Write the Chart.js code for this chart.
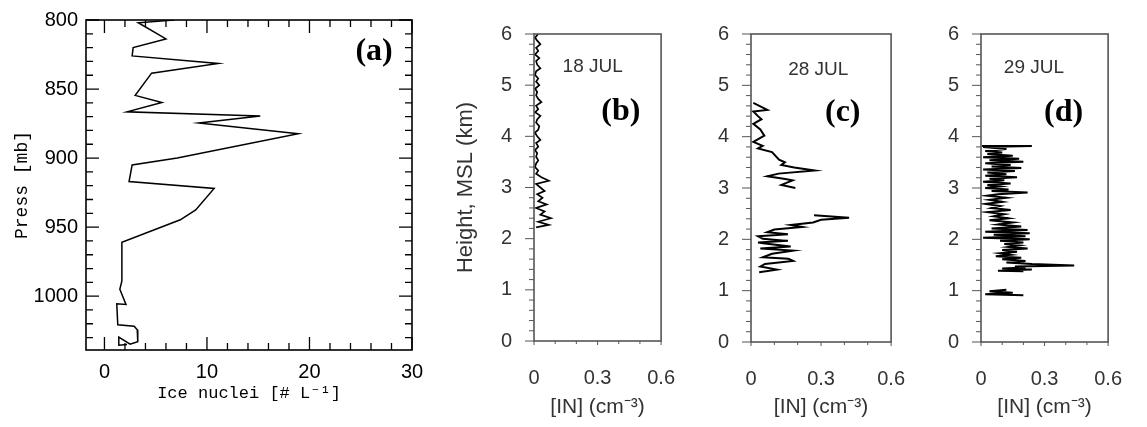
<!DOCTYPE html>
<html>
<head>
<meta charset="utf-8">
<script src="https://cdn.jsdelivr.net/npm/chart.js@4/dist/chart.umd.min.js"></script>
<style>
  html, body { margin: 0; padding: 0; background: #fff; }
  #wrap { position: relative; width: 1147px; height: 427px; overflow: hidden; }
  canvas { position: absolute; top: 0; }
</style>
</head>
<body>
<div id="wrap">
  <canvas id="panel-a" style="left:0px" width="440" height="427"></canvas>
  <canvas id="panel-b" style="left:440px" width="260" height="427"></canvas>
  <canvas id="panel-c" style="left:700px" width="230" height="427"></canvas>
  <canvas id="panel-d" style="left:930px" width="217" height="427"></canvas>
</div>
<script>
// (a) ice nuclei [# L-1] vs pressure [mb]
const pressA = [800, 802, 813.7, 820, 826, 831.5, 838.5, 854.6, 859.7, 866.5,
  869.5, 874.6, 882.3, 900, 905, 917, 922, 937.6, 944.7, 961,
  989, 995, 1006, 1005.5, 1020.8, 1021.8, 1024.4, 1033, 1034.8, 1029.6,
  1035.5, 1035];
const nucleiA = [6.8, 3.3, 6.0, 2.8, 2.7, 11.1, 4.6, 3.0, 5.6, 2.2,
  15.2, 9.2, 18.9, 7.1, 2.7, 2.4, 10.7, 8.9, 7.4, 1.7,
  1.7, 1.5, 2.1, 1.2, 1.3, 2.9, 3.2, 3.25, 2.5, 1.4,
  1.4, 2.2];

// (b) 18 JUL
const heightB = [6.00, 5.93, 5.87, 5.80, 5.73, 5.67, 5.60, 5.53, 5.47, 5.40,
  5.33, 5.27, 5.20, 5.13, 5.07, 5.00, 4.93, 4.87, 4.80, 4.73,
  4.67, 4.60, 4.53, 4.47, 4.40, 4.33, 4.27, 4.20, 4.13, 4.07,
  4.00, 3.93, 3.87, 3.80, 3.73, 3.67, 3.60, 3.53, 3.47, 3.40,
  3.33, 3.27, 3.20, 3.13, 3.07, 3.00, 2.93, 2.87, 2.80, 2.73,
  2.67, 2.60, 2.53, 2.47, 2.40, 2.33, 2.27, 2.22];
const inB = [0.02, 0.005, 0.015, 0.03, 0.01, 0.02, 0.005, 0.025, 0.01, 0.015,
  0.03, 0.01, 0.005, 0.02, 0.01, 0.025, 0.005, 0.015, 0.01, 0.02,
  0.035, 0.01, 0.02, 0.005, 0.03, 0.015, 0.01, 0.025, 0.02, 0.005,
  0.015, 0.03, 0.01, 0.02, 0.005, 0.015, 0.01, 0.02, 0.01, 0.005,
  0.02, 0.01, 0.035, 0.07, 0.01, 0.03, 0.05, 0.015, 0.04, 0.02,
  0.06, 0.01, 0.05, 0.03, 0.08, 0.02, 0.07, 0.01];

// (c) 28 JUL (null = gap in the record)
const heightC = [4.66, 4.52, 4.49, 4.40, 4.34, 4.25, 4.14, 4.02, 3.90, 3.82,
  3.77, 3.70, 3.63, 3.55, 3.50, 3.45, 3.40, 3.34, 3.28, 3.23,
  3.18, 3.15, 3.06, 3.00, null, 2.47, 2.42, 2.38, 2.33, 2.28,
  2.24, 2.19, 2.14, 2.10, 2.06, 2.01, 1.97, 1.94, 1.92, 1.86,
  1.82, 1.78, 1.72, 1.65, 1.62, 1.58, 1.52, 1.47, 1.41, 1.36];
const inC = [0.01, 0.07, 0.01, 0.03, 0.045, 0.01, 0.04, 0.057, 0.01, 0.05,
  0.03, 0.09, 0.104, 0.12, 0.145, 0.13, 0.185, 0.273, 0.118, 0.07,
  0.14, 0.178, 0.13, 0.19, null, 0.27, 0.42, 0.30, 0.266, 0.17,
  0.22, 0.10, 0.07, 0.158, 0.03, 0.05, 0.158, 0.03, 0.06, 0.17,
  0.04, 0.18, 0.09, 0.05, 0.16, 0.18, 0.06, 0.04, 0.11, 0.035];

// (d) 29 JUL
const heightD = [3.82, 3.82, 3.80, 3.76, 3.72, 3.69, 3.66, 3.63, 3.60, 3.57, 3.54,
  3.51, 3.48, 3.45, 3.42, 3.39, 3.36, 3.33, 3.30, 3.27, 3.24,
  3.21, 3.18, 3.15, 3.12, 3.09, 3.06, 3.03, 3.00, 2.97, 2.94,
  2.91, 2.88, 2.85, 2.81, 2.77, 2.73, 2.69, 2.65, 2.61, 2.57,
  2.53, 2.49, 2.45, 2.41, 2.37, 2.33, 2.29, 2.25, 2.21, 2.18,
  2.15, 2.12, 2.09, 2.06, 2.03, 2.00, 1.97, 1.94, 1.91, 1.88,
  1.85, 1.82, 1.79, 1.76, 1.73, 1.70, 1.67, 1.64, 1.61, 1.58,
  1.55, 1.52, 1.49, 1.47, 1.45, 1.43, 1.41, 1.39, 1.38, null,
  1.02, 0.99, 0.96, 0.93, 0.91];
const inD = [0.005, 0.24, 0.01, 0.12, 0.02, 0.10, 0.03, 0.15, 0.01, 0.18, 0.04,
  0.20, 0.02, 0.14, 0.05, 0.19, 0.01, 0.16, 0.03, 0.12, 0.02,
  0.17, 0.04, 0.11, 0.01, 0.14, 0.03, 0.09, 0.02, 0.13, 0.05,
  0.22, 0.08, 0.03, 0.12, 0.04, 0.10, 0.02, 0.09, 0.05, 0.14,
  0.03, 0.11, 0.06, 0.13, 0.04, 0.15, 0.08, 0.19, 0.05, 0.22,
  0.02, 0.23, 0.06, 0.21, 0.01, 0.23, 0.09, 0.20, 0.11, 0.18,
  0.13, 0.22, 0.10, 0.17, 0.09, 0.14, 0.07, 0.19, 0.10, 0.21,
  0.12, 0.24, 0.44, 0.16, 0.21, 0.10, 0.24, 0.08, 0.20, null,
  0.12, 0.04, 0.15, 0.02, 0.20];

const INX_TICKS = [0, 0.3, 0.6];
const SANS = "'Liberation Sans', Arial, sans-serif";
const GREY = "#333";

// frame + hand-drawn tick marks (inward or outward), positions from the scales
const frameTicksPlugin = {
  id: "frameTicks",
  afterDraw(chart, _args, opts) {
    const { ctx, chartArea: area, scales } = chart;
    ctx.save();
    ctx.strokeStyle = opts.color;
    ctx.lineWidth = opts.width;
    ctx.strokeRect(area.left, area.top, area.right - area.left, area.bottom - area.top);
    ctx.lineWidth = opts.tickWidth;

    for (const axisId of ["x", "y"]) {
      const cfg = opts[axisId];
      const scale = scales[axisId];
      const lo = Math.min(scale.min, scale.max);
      const hi = Math.max(scale.min, scale.max);
      const first = Math.ceil(lo / cfg.step - 1e-6);
      const last = Math.floor(hi / cfg.step + 1e-6);
      for (let k = first; k <= last; k += 1) {
        const value = k * cfg.step;
        const ratio = value / cfg.majorStep;
        const isMajor = Math.abs(ratio - Math.round(ratio)) < 1e-6;
        const len = isMajor ? cfg.major : cfg.minor;
        const p = scale.getPixelForValue(value);
        ctx.beginPath();
        for (const side of cfg.sides) {
          const sign = cfg.dir === "in" ? 1 : -1;
          if (side === "left") { ctx.moveTo(area.left, p); ctx.lineTo(area.left + sign * len, p); }
          if (side === "right") { ctx.moveTo(area.right, p); ctx.lineTo(area.right - sign * len, p); }
          if (side === "bottom") { ctx.moveTo(p, area.bottom); ctx.lineTo(p, area.bottom - sign * len); }
          if (side === "top") { ctx.moveTo(p, area.top); ctx.lineTo(p, area.top + sign * len); }
        }
        ctx.stroke();
      }
    }
    ctx.restore();
  }
};

// text labels placed in data coordinates
const panelLabelsPlugin = {
  id: "panelLabels",
  afterDraw(chart, _args, opts) {
    const { ctx, scales } = chart;
    ctx.save();
    ctx.textAlign = "center";
    ctx.textBaseline = "middle";
    for (const item of opts.items) {
      ctx.font = item.font;
      ctx.fillStyle = item.color;
      ctx.fillText(item.text, scales.x.getPixelForValue(item.x), scales.y.getPixelForValue(item.y));
    }
    ctx.restore();
  }
};

function toPoints(xs, ys) {
  return xs.map((x, i) => ({ x, y: ys[i] }));
}

function buildChart(canvasId, setup) {
  return new Chart(document.getElementById(canvasId), {
    type: "scatter",
    plugins: [frameTicksPlugin, panelLabelsPlugin],
    data: {
      datasets: [{
        data: setup.points,
        showLine: true,
        spanGaps: false,
        borderColor: "#000",
        borderWidth: setup.lineWidth,
        pointRadius: 0,
        tension: 0
      }]
    },
    options: {
      responsive: false,
      animation: false,
      devicePixelRatio: 1,
      events: [],
      layout: { padding: setup.padding },
      plugins: {
        legend: { display: false },
        tooltip: { enabled: false },
        frameTicks: setup.frame,
        panelLabels: { items: setup.labels }
      },
      scales: {
        x: setup.x,
        y: setup.y
      }
    }
  });
}

// ---- panel (a)
buildChart("panel-a", {
  points: toPoints(nucleiA, pressA),
  lineWidth: 1.5,
  padding: { top: 13, right: 28, left: 0, bottom: 0 },
  frame: {
    color: "#000", width: 1.6, tickWidth: 1.3,
    x: { step: 2, majorStep: 10, major: 13, minor: 7, sides: ["bottom", "top"], dir: "in" },
    y: { step: 10, majorStep: 50, major: 13, minor: 7, sides: ["left", "right"], dir: "in" }
  },
  labels: [
    { text: "(a)", x: 26.3, y: 823, font: "bold 32px 'Liberation Serif', serif", color: "#000" }
  ],
  x: {
    type: "linear", min: -1.8, max: 30,
    afterFit(scale) { scale.height = 77; },
    grid: { display: false, drawTicks: false },
    border: { display: false },
    ticks: { stepSize: 10, includeBounds: false, padding: 10, color: "#000",
      font: { family: SANS, size: 20 }, callback: (value) => String(value) },
    title: { display: true, text: "Ice nuclei [# L⁻¹]", color: "#000",
      font: { family: "'Liberation Mono', monospace", size: 17 }, padding: { top: 0, bottom: 23 } }
  },
  y: {
    type: "linear", min: 800, max: 1039, reverse: true,
    afterFit(scale) { scale.width = 86; },
    grid: { display: false, drawTicks: false },
    border: { display: false },
    ticks: { stepSize: 50, includeBounds: false, padding: 8, color: "#000",
      font: { family: SANS, size: 20 }, callback: (value) => String(value) },
    title: { display: true, text: "Press [mb]", color: "#000",
      font: { family: "'Liberation Mono', monospace", size: 18 }, padding: { top: 11, bottom: 0 } }
  }
});

// ---- panels (b)-(d)
function inAxisX(xAxisHeight) {
  return {
    type: "linear", min: 0, max: 0.6,
    afterFit(scale) { scale.height = xAxisHeight; },
    afterBuildTicks(scale) { scale.ticks = INX_TICKS.map((value) => ({ value })); },
    grid: { display: false, drawTicks: false },
    border: { display: false },
    ticks: { padding: 25, color: GREY, font: { family: SANS, size: 20 },
      callback: (value) => String(Number(value.toFixed(1))) },
    title: { display: true, text: "[IN] (cm⁻³)", color: GREY,
      font: { family: SANS, size: 21 }, padding: { top: 0, bottom: 7 } }
  };
}

function heightAxisY(withTitle, axisWidth) {
  return {
    type: "linear", min: 0, max: 6,
    afterFit(scale) { scale.width = axisWidth; },
    grid: { display: false, drawTicks: false },
    border: { display: false },
    ticks: { stepSize: 1, padding: 22, color: GREY, font: { family: SANS, size: 20 } },
    title: { display: withTitle, text: "Height, MSL (km)", color: GREY,
      font: { family: SANS, size: 22 }, padding: { top: 13, bottom: 0 } }
  };
}

function inFrame() {
  return {
    color: "#555", width: 1.6, tickWidth: 1,
    x: { step: 0.1, majorStep: 0.3, major: 4, minor: 3, sides: ["bottom"], dir: "out" },
    y: { step: 0.2, majorStep: 1, major: 9, minor: 5, sides: ["left"], dir: "out" }
  };
}

const dateFont = "19px " + SANS;
const tagFont = "bold 32px 'Liberation Serif', serif";

buildChart("panel-b", {
  points: toPoints(inB, heightB),
  lineWidth: 1.7,
  padding: { top: 21, right: 25, left: 0, bottom: 0 },
  frame: inFrame(),
  labels: [
    { text: "18 JUL", x: 0.277, y: 5.36, font: dateFont, color: GREY },
    { text: "(b)", x: 0.41, y: 4.48, font: tagFont, color: "#000" }
  ],
  x: inAxisX(86),
  y: heightAxisY(true, 94)
});

buildChart("panel-c", {
  points: toPoints(inC, heightC),
  lineWidth: 2,
  padding: { top: 22, right: 31, left: 0, bottom: 0 },
  frame: inFrame(),
  labels: [
    { text: "28 JUL", x: 0.288, y: 5.31, font: dateFont, color: GREY },
    { text: "(c)", x: 0.393, y: 4.47, font: tagFont, color: "#000" }
  ],
  x: inAxisX(85),
  y: heightAxisY(false, 51)
});

buildChart("panel-d", {
  points: toPoints(inD, heightD),
  lineWidth: 2,
  padding: { top: 23, right: 29, left: 0, bottom: 0 },
  frame: inFrame(),
  labels: [
    { text: "29 JUL", x: 0.25, y: 5.35, font: dateFont, color: GREY },
    { text: "(d)", x: 0.39, y: 4.47, font: tagFont, color: "#000" }
  ],
  x: inAxisX(85),
  y: heightAxisY(false, 51)
});
</script>
</body>
</html>
